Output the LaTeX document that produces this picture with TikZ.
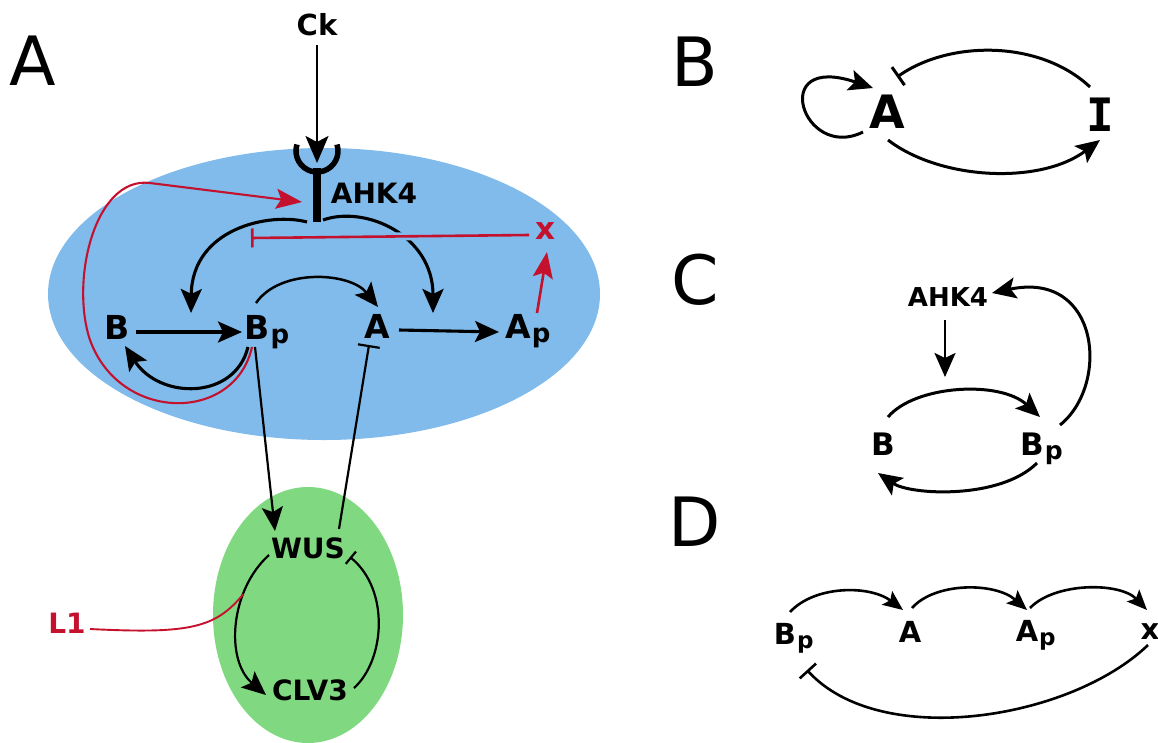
\documentclass[tikz,border=0pt]{standalone}
\usepackage{fontspec}
\setmainfont{DejaVu Sans}
\newfontfamily\slabfam{DejaVu Sans Mono}
\usetikzlibrary{arrows.meta,calc}
\definecolor{cellblue}{RGB}{128,187,235}
\definecolor{cellgreen}{RGB}{128,217,128}
\definecolor{sigred}{RGB}{196,18,46}
% lowered subscript that does not change the size of the node box
\newcommand{\psub}[1][26]{\smash{\rlap{\kern1pt\raisebox{-4pt}{\fontsize{#1}{#1}\selectfont p}}}}
\newcommand{\fsz}[1]{\fontsize{#1}{#1}\selectfont\bfseries}
\begin{document}
\begin{tikzpicture}[x=1pt,y=-1pt,
  lbl/.style={font=\fsz{27}, inner sep=0pt},
  sym/.style={font=\fsz{33}, inner sep=0pt},
  biglbl/.style={font=\fsz{46}, inner sep=0pt},
  panel/.style={font=\fontsize{68}{68}\selectfont, inner sep=0pt},
  tipbig/.style={-{Stealth[length=24pt,width=21pt,inset=5pt]}},
  tipmid/.style={-{Stealth[length=20pt,width=17pt,inset=4pt]}},
  act/.style={line width=3.1pt, tipbig},
  thinact/.style={line width=2.2pt, tipbig},
  redact/.style={sigred, line width=2.6pt, -{Stealth[length=26pt,width=20pt,inset=5pt]}},
  inh/.style={-{Bar[width=#1]}},
  inh/.default=20pt,
]
\useasboundingbox (0,0) rectangle (1158,742);

% ---------------- panel A ----------------
\fill[cellblue] (324,294) ellipse[x radius=276, y radius=146];
\fill[cellgreen] (308,615) ellipse[x radius=95, y radius=128];

\node[panel] (labA) at (33,61) {A};

\node[lbl, font=\fsz{29}] (Ck) at (317,25) {Ck};
\node[lbl, font=\fsz{28}] (AHK) at (374,193) {AHK4};
\node[sym, font=\fsz{31}, text=sigred] (X) at (545,231) {x};
\node[sym] (B) at (117,327) {B};
\node[sym] (Bp) at (257,327) {B\psub};
\node[sym] (A) at (377,326) {A};
\node[sym] (Ap) at (518,326) {A\psub};
\node[lbl, font=\fsz{28}] (WUS) at (308,548) {WUS};
\node[lbl, font=\fsz{28}] (CLV) at (310,690) {CLV3};
\node[lbl, font=\fsz{28}, text=sigred] (L1) at (67,623) {L1};

% receptor: cup and stem
\coordinate (rc) at (317,151);
\coordinate (rb) at (317,222);
\draw[line width=5.5pt] (rc) ++(-18:21) arc[start angle=-18, end angle=198, radius=21];
\draw[line width=8pt] ($(rc)+(0,17)$) -- (rb);
\draw[line width=2.6pt, -{Stealth[length=27pt,width=23pt,inset=6pt]}]
  ($(Ck)+(0,20)$) -- ($(rc)+(0,12)$);

% receptor acts on the two phosphorylation steps
\draw[act] ($(rb)+(-10,0)$) .. controls ($(rb)+(-47,-10)$) and ($(B)+(75,-99)$) .. ($(B)+(74,-14)$);
\draw[act] ($(rb)+(6,-2)$) .. controls ($(rb)+(48,-17)$) and ($(A)+(56,-91)$) .. ($(A)+(56,-13)$);

% x inhibits the receptor (halo cuts the black arc underneath)
\draw[cellblue, line width=8pt] ($(X)+(-16,4)$) -- ($(rb)+(-60,16)$);
\draw[sigred, line width=2.6pt, inh=19pt] ($(X)+(-16,4)$) -- ($(rb)+(-66,16)$);
\draw[redact] ($(Ap)+(19,-13)$) -- ($(X)+(2,21)$);

% phosphorelay
\draw[act] ($(B)+(19,5)$) -- ($(Bp)+(-15,5)$);
\draw[act] ($(Bp)+(-9,20)$) .. controls ($(Bp)+(-22,73)$) and ($(B)+(43,73)$) .. ($(B)+(8,19)$);
\draw[line width=2.5pt, tipbig] ($(Bp)+(-1,-24)$) .. controls ($(Bp)+(23,-59)$) and ($(A)+(-27,-54)$) .. ($(A)+(1,-19)$);
\draw[act] ($(A)+(22,4)$) -- ($(Ap)+(-19,6)$);

% Bp feeds back on the receptor
\draw[redact, line width=2.1pt]
  ($(Bp)+(-5,20)$) .. controls ($(Bp)+(-22,96)$) and ($(B)+(3,96)$) .. ($(B)+(-27,13)$)
  .. controls ($(B)+(-47,-47)$) and ($(B)+(-22,-151)$) .. ($(B)+(33,-144)$)
  -- ($(rb)+(-15,-20)$);

% links to the WUS/CLV3 loop
\draw[thinact] ($(Bp)+(-2,20)$) -- ($(WUS)+(-33,-17)$);
\draw[line width=2.2pt, inh=22pt] ($(WUS)+(31,-19)$) -- ($(A)+(-8,19)$);
\draw[line width=2.2pt, tipbig] ($(WUS)+(-39,7)$)
  .. controls ($(WUS)+(-78,42)$) and ($(CLV)+(-85,-30)$) .. coordinate[pos=0.3] (hit) ($(CLV)+(-44,5)$);
\draw[line width=2.2pt, inh=16pt] ($(CLV)+(44,-2)$)
  .. controls ($(CLV)+(75,-30)$) and ($(WUS)+(82,42)$) .. ($(WUS)+(42,9)$);
\draw[sigred, line width=1.9pt] ($(L1)+(23,6)$)
  .. controls ($(L1)+(123,11)$) and ($(hit)+(-28,34)$) .. (hit);

% ---------------- panel B ----------------
\node[panel] (labB) at (695,62) {B};
\node[biglbl] (Ab) at (887,112) {A};
\node[font=\fontsize{46}{46}\selectfont\slabfam\bfseries, inner sep=0pt] (Ib) at (1100,115) {I};
\draw[line width=3pt, tipbig] ($(Ab)+(-24,20)$)
  .. controls ($(Ab)+(-84,50)$) and ($(Ab)+(-120,-60)$) .. ($(Ab)+(-14,-24)$);
\draw[line width=3pt, inh=22pt] ($(Ib)+(-10,-28)$)
  .. controls ($(Ib)+(-60,-75)$) and ($(Ab)+(63,-72)$) .. ($(Ab)+(10,-35)$);
\draw[line width=3pt, tipbig] ($(Ab)+(1,28)$)
  .. controls ($(Ab)+(53,68)$) and ($(Ib)+(-60,70)$) .. ($(Ib)+(0,25)$);

% ---------------- panel C ----------------
\node[panel] (labC) at (695,280) {C};
\node[lbl, font=\fsz{26}] (AHc) at (948,297) {AHK4};
\node[sym, font=\fsz{31}] (Bc) at (883,444) {B};
\node[sym, font=\fsz{31}] (Bpc) at (1032,444) {B\psub[25]};
\draw[line width=3pt, tipbig] ($(Bc)+(5,-27)$)
  .. controls ($(Bc)+(32,-59)$) and ($(Bpc)+(-32,-64)$) .. ($(Bpc)+(8,-27)$);
\draw[line width=3pt, tipbig] ($(Bpc)+(5,19)$)
  .. controls ($(Bpc)+(-32,56)$) and ($(Bc)+(27,51)$) .. ($(Bc)+(-5,29)$);
\draw[line width=3pt, tipbig] ($(Bpc)+(28,-19)$)
  .. controls ($(Bpc)+(78,-59)$) and ($(Bpc)+(68,-174)$) .. ($(AHc)+(44,-4)$);
\coordinate (cstep) at ($(AHc)+(-3,80)$);
\draw[line width=2.4pt, tipbig] ($(AHc)+(-3,23)$) -- (cstep);

% ---------------- panel D ----------------
\node[panel] (labD) at (695,522) {D};
\node[sym, font=\fsz{29}] (Bpd) at (785,634) {B\psub[23]};
\node[sym, font=\fsz{29}] (Ad) at (910,632) {A};
\node[sym, font=\fsz{29}] (Apd) at (1027,631) {A\psub[23]};
\node[sym, font=\fsz{29}] (Xd) at (1150,632) {x};
\draw[line width=2.6pt, tipmid] ($(Bpd)+(5,-22)$)
  .. controls ($(Bpd)+(30,-49)$) and ($(Ad)+(-40,-47)$) .. ($(Ad)+(-7,-22)$);
\draw[line width=2.6pt, tipmid] ($(Ad)+(2,-24)$)
  .. controls ($(Ad)+(25,-50)$) and ($(Apd)+(-32,-49)$) .. ($(Apd)+(0,-21)$);
\draw[line width=2.6pt, tipmid] ($(Apd)+(3,-23)$)
  .. controls ($(Apd)+(28,-49)$) and ($(Xd)+(-30,-50)$) .. ($(Xd)+(-3,-22)$);
\draw[line width=2.6pt, inh=22pt] ($(Xd)+(-2,13)$)
  .. controls ($(Xd)+(-80,88)$) and ($(Bpd)+(95,116)$) .. ($(Bpd)+(22,36)$);
\end{tikzpicture}
\end{document}
